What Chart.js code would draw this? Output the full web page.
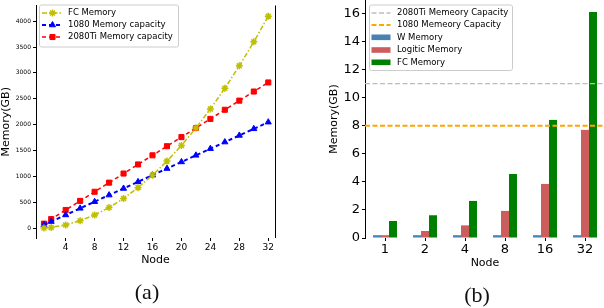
<!DOCTYPE html>
<html>
<head>
<meta charset="utf-8">
<script src="https://cdn.jsdelivr.net/npm/chart.js@4.4.1/dist/chart.umd.min.js"></script>
<style>
    html, body { margin: 0; padding: 0; background: #fff; }
    body { width: 604px; height: 308px; position: relative; overflow: hidden; }
    canvas { position: absolute; top: 0; }
    .cap {
        position: absolute;
        font-family: "Liberation Serif", "DejaVu Serif", serif;
        font-size: 22px;
        color: #111;
        transform: translate(-50%, -50%);
    }
</style>
</head>
<body>
<canvas id="lineChart" width="300" height="308" style="left:0"></canvas>
<canvas id="barChart" width="305" height="308" style="left:300px"></canvas>
<div class="cap" style="left:147px;top:292px">(a)</div>
<div class="cap" style="left:477px;top:295px">(b)</div>

<script>
    // (a) memory against number of nodes
    const nodes = [1, 2, 4, 6, 8, 10, 12, 14, 16, 18, 20, 22, 24, 26, 28, 30, 32];
    const fcMemory = [4, 16, 64, 144, 256, 400, 576, 784, 1024, 1296, 1600, 1936, 2304, 2704, 3136, 3600, 4096];
    const cap1080 = [64, 128, 256, 384, 512, 640, 768, 896, 1024, 1152, 1280, 1408, 1536, 1664, 1792, 1920, 2048];
    const cap2080 = [88, 176, 352, 528, 704, 880, 1056, 1232, 1408, 1584, 1760, 1936, 2112, 2288, 2464, 2640, 2816];
    const nodeTicks = [4, 8, 12, 16, 20, 24, 28, 32];
    const memTicks = [0, 500, 1000, 1500, 2000, 2500, 3000, 3500, 4000];

    // (b) memory per part
    const nodeLabels = ['1', '2', '4', '8', '16', '32'];
    const wMemory = [0.2, 0.2, 0.2, 0.2, 0.2, 0.2];
    const logitMemory = [0.2, 0.5, 0.9, 1.93, 3.85, 7.7];
    const fcPartMemory = [1.21, 1.62, 2.64, 4.56, 8.41, 16.09];
    const capLabels = ['2080Ti Memeory Capacity', '1080 Memeory Capacity'];
    const capValues = [11, 8];
    const gbTicks = [0, 2, 4, 6, 8, 10, 12, 14, 16];

    Chart.defaults.font.family = '"DejaVu Sans", sans-serif';
    Chart.defaults.color = '#000';

    const capStyles = [
        {color: '#bdbdbd', width: 1.3, dash: [5, 2.5]},
        {color: '#ffa500', width: 2, dash: [5, 2.5]}
    ];

    // horizontal capacity lines across the whole plot, placed by the y scale
    const capLines = {
        id: 'capLines',
        afterDatasetsDraw(chart, args, opts) {
            if (!opts.values) return;
            const ctx = chart.ctx;
            const area = chart.chartArea;
            const y = chart.scales.y;
            ctx.save();
            opts.values.forEach(function (v, i) {
                const st = capStyles[i];
                const py = y.getPixelForValue(v);
                ctx.strokeStyle = st.color;
                ctx.lineWidth = st.width;
                ctx.setLineDash(st.dash);
                ctx.beginPath();
                ctx.moveTo(area.left, py);
                ctx.lineTo(area.right, py);
                ctx.stroke();
            });
            ctx.restore();
        }
    };

    // matplotlib-like legend box drawn inside the plot
    const boxLegend = {
        id: 'boxLegend',
        afterDraw(chart, args, opts) {
            const ctx = chart.ctx;
            const area = chart.chartArea;
            ctx.save();

            if (opts.rightSpine) {
                ctx.strokeStyle = '#000';
                ctx.lineWidth = 1;
                ctx.beginPath();
                ctx.moveTo(Math.round(area.right) + 0.5, area.top);
                ctx.lineTo(Math.round(area.right) + 0.5, area.bottom);
                ctx.stroke();
            }

            ctx.fillStyle = 'rgba(255,255,255,0.85)';
            ctx.strokeStyle = '#cccccc';
            ctx.lineWidth = 1;
            ctx.beginPath();
            ctx.roundRect(opts.x + 0.5, opts.y + 0.5, opts.w, opts.h, 2);
            ctx.fill();
            ctx.stroke();

            const items = [];
            (opts.capLabels || []).forEach(function (label, i) {
                items.push({label: label, line: true, borderColor: capStyles[i].color,
                    borderWidth: capStyles[i].width, borderDash: capStyles[i].dash});
            });
            chart.data.datasets.forEach(function (ds) {
                items.push({label: ds.label, line: chart.config.type === 'line', borderColor: ds.borderColor,
                    borderWidth: ds.borderWidth, borderDash: ds.borderDash, pointStyle: ds.pointStyle,
                    pointRadius: ds.pointRadius, pointBorderWidth: ds.pointBorderWidth,
                    backgroundColor: ds.backgroundColor});
            });

            items.forEach(function (it, i) {
                const cy = opts.rows[i];
                if (it.line) {
                    ctx.strokeStyle = it.borderColor;
                    ctx.lineWidth = it.borderWidth;
                    ctx.setLineDash(it.borderDash || []);
                    ctx.beginPath();
                    ctx.moveTo(opts.sampleX, cy);
                    ctx.lineTo(opts.sampleX + opts.sampleW, cy);
                    ctx.stroke();
                    ctx.setLineDash([]);
                    if (it.pointRadius) {
                        ctx.fillStyle = it.backgroundColor;
                        ctx.strokeStyle = it.borderColor;
                        ctx.lineWidth = it.pointBorderWidth || 1;
                        Chart.helpers.drawPoint(ctx, {
                            pointStyle: it.pointStyle,
                            radius: it.pointRadius,
                            borderWidth: it.pointBorderWidth || 1,
                            rotation: 0
                        }, opts.sampleX + opts.sampleW / 2, cy);
                    }
                } else {
                    ctx.fillStyle = it.backgroundColor;
                    ctx.fillRect(opts.sampleX, cy - 2.8, opts.sampleW, 5.6);
                }
                ctx.fillStyle = '#000';
                ctx.font = opts.fontSize + 'px "DejaVu Sans", sans-serif';
                ctx.textBaseline = 'middle';
                ctx.textAlign = 'left';
                ctx.fillText(it.label, opts.textX, cy);
            });
            ctx.restore();
        }
    };

    function toPoints(values) {
        return nodes.map((n, i) => ({x: n, y: values[i]}));
    }

    new Chart(document.getElementById('lineChart'), {
        type: 'line',
        data: {
            datasets: [{
                label: 'FC Memory',
                data: toPoints(fcMemory),
                borderColor: '#bfbf00',
                backgroundColor: '#bfbf00',
                borderWidth: 1.5,
                borderDash: [5, 2, 1.5, 2],
                pointStyle: 'star',
                pointRadius: 3.5,
                pointBorderWidth: 1.5
            }, {
                label: '1080 Memory capacity',
                data: toPoints(cap1080),
                borderColor: '#0000ff',
                backgroundColor: '#0000ff',
                borderWidth: 2,
                borderDash: [4, 3],
                pointStyle: 'triangle',
                pointRadius: 3.5,
                pointBorderWidth: 1
            }, {
                label: '2080Ti Memory capacity',
                data: toPoints(cap2080),
                borderColor: '#ff0000',
                backgroundColor: '#ff0000',
                borderWidth: 1.5,
                borderDash: [4, 3],
                pointStyle: 'rect',
                pointRadius: 3.6,
                pointBorderWidth: 1
            }]
        },
        options: {
            responsive: false,
            animation: false,
            layout: {padding: {left: 0, right: 25, top: 0, bottom: 41.4}},
            plugins: {
                legend: {display: false},
                tooltip: {enabled: false},
                boxLegend: {
                    x: 39, y: 4.5, w: 139, h: 42,
                    rows: [13, 25, 37],
                    sampleX: 42, sampleW: 21, textX: 68,
                    fontSize: 8.5,
                    rightSpine: true
                }
            },
            scales: {
                x: {
                    type: 'linear',
                    min: -0.1,
                    max: 32.93,
                    afterBuildTicks: s => { s.ticks = nodeTicks.map(v => ({value: v})); },
                    afterFit: s => { s.height = 28.6; s.paddingLeft = 0; s.paddingRight = 0; },
                    grid: {drawOnChartArea: false, tickLength: 3, color: '#000'},
                    border: {display: false},
                    ticks: {font: {size: 9}, padding: 1, maxRotation: 0, callback: v => String(v)},
                    title: {display: true, text: 'Node', font: {size: 11}, padding: 0}
                },
                y: {
                    min: -189,
                    max: 4302,
                    afterBuildTicks: s => { s.ticks = memTicks.map(v => ({value: v})); },
                    afterFit: s => { s.width = 36; s.paddingTop = 0; s.paddingBottom = 0; },
                    grid: {drawOnChartArea: false, tickLength: 3, color: '#000'},
                    border: {display: true, color: '#000', width: 1},
                    ticks: {font: {size: 6}, padding: 2, callback: v => String(v)},
                    title: {display: true, text: 'Memory(GB)', font: {size: 11}, padding: 0}
                }
            }
        },
        plugins: [boxLegend]
    });

    new Chart(document.getElementById('barChart'), {
        type: 'bar',
        data: {
            labels: nodeLabels,
            datasets: [{
                label: 'W Memory',
                data: wMemory,
                backgroundColor: '#4682b4'
            }, {
                label: 'Logitic Memory',
                data: logitMemory,
                backgroundColor: '#cd5c5c'
            }, {
                label: 'FC Memory',
                data: fcPartMemory,
                backgroundColor: '#008000'
            }]
        },
        options: {
            responsive: false,
            animation: false,
            layout: {padding: {left: 28, right: 0, top: 0, bottom: 38.4}},
            datasets: {bar: {categoryPercentage: 0.6, barPercentage: 1}},
            plugins: {
                legend: {display: false},
                tooltip: {enabled: false},
                capLines: {values: capValues},
                boxLegend: {
                    x: 69, y: 4.5, w: 143, h: 65.5,
                    rows: [13, 25, 37.3, 50, 62.3],
                    sampleX: 71.5, sampleW: 19, textX: 97,
                    fontSize: 8.5,
                    capLabels: capLabels
                }
            },
            scales: {
                x: {
                    offset: true,
                    afterFit: s => { s.height = 31.6; s.paddingLeft = 0; s.paddingRight = 0; },
                    grid: {drawOnChartArea: false, tickLength: 3, color: '#000', offset: false},
                    border: {display: false},
                    ticks: {font: {size: 13}, padding: 1, maxRotation: 0},
                    title: {display: true, text: 'Node', font: {size: 11}, padding: 0}
                },
                y: {
                    min: 0,
                    max: 16.95,
                    afterBuildTicks: s => { s.ticks = gbTicks.map(v => ({value: v})); },
                    afterFit: s => { s.width = 37; s.paddingTop = 0; s.paddingBottom = 0; },
                    grid: {drawOnChartArea: false, tickLength: 3, color: '#000'},
                    border: {display: true, color: '#000', width: 1},
                    ticks: {font: {size: 13}, padding: 2},
                    title: {display: true, text: 'Memory(GB)', font: {size: 11}, padding: 0}
                }
            }
        },
        plugins: [capLines, boxLegend]
    });
</script>
</body>
</html>
